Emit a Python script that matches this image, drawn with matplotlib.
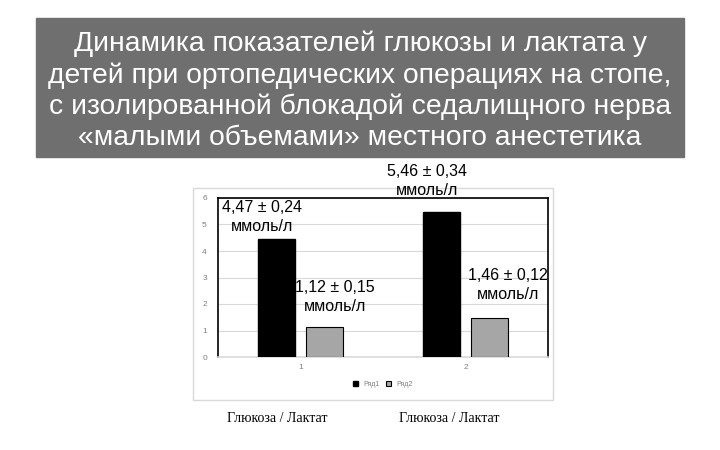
import matplotlib.pyplot as plt
from matplotlib.patches import Rectangle
import numpy as np

categories = ['1', '2']
glucose = [4.47, 5.46]
lactate = [1.12, 1.46]
glucose_labels = ['4,47 ± 0,24\nммоль/л', '5,46 ± 0,34\nммоль/л']
lactate_labels = ['1,12 ± 0,15\nммоль/л', '1,46 ± 0,12\nммоль/л']
series_names = ['Ряд1', 'Ряд2']
bottom_labels = ['Глюкоза / Лактат', 'Глюкоза / Лактат']
title = ('Динамика показателей глюкозы и лактата у\n'
         'детей при ортопедических операциях на стопе,\n'
         'с изолированной блокадой седалищного нерва\n'
         '«малыми объемами» местного анестетика')

W, H = 720, 450
fig = plt.figure(figsize=(7.2, 4.5), dpi=100)
plt.rcParams['font.family'] = ['Liberation Sans', 'DejaVu Sans']


def box(x0, y0, x1, y1):
    # pixel coords (top-left origin) -> figure fraction
    return [x0 / W, 1 - y1 / H, (x1 - x0) / W, (y1 - y0) / H]


# title banner
fig.patches.append(Rectangle((36 / W, 1 - 157 / H), 648 / W, 139 / H,
                             transform=fig.transFigure, color='#6f6f6f', zorder=-2))
fig.text(360 / W, 1 - 91 / H, title, ha='center', va='center', color='white',
         fontsize=20.3, linespacing=1.25)

# outer chart frame
fig.patches.append(Rectangle((193 / W, 1 - 400 / H), 360 / W, 212 / H,
                             transform=fig.transFigure, facecolor='white',
                             edgecolor='#d9d9d9', lw=1, zorder=-2))

ax = fig.add_axes(box(218, 198, 548, 357))
x = np.arange(len(categories))
bw = 0.225
ax.bar(x - 0.145, glucose, bw, color='black', edgecolor='black',
       label=series_names[0], zorder=3)
ax.bar(x + 0.145, lactate, bw, color='#a6a6a6', edgecolor='black', lw=0.8,
       label=series_names[1], zorder=3)
ax.set_xlim(-0.5, 1.5)
ax.set_ylim(0, 6)
ax.set_yticks(range(7))
ax.set_xticks(x)
ax.set_xticklabels(categories)
ax.tick_params(length=0, labelsize=6, colors='#7f7f7f', pad=8)
ax.tick_params(axis='x', pad=5)
ax.yaxis.grid(True, color='#d9d9d9', lw=0.8, zorder=0)
for s in ax.spines.values():
    s.set_color('black')
    s.set_linewidth(1.2)
ax.spines['bottom'].set_color('#d9d9d9')
ax.legend(loc='upper center', bbox_to_anchor=(0.5, -0.11), ncol=2, frameon=False,
          fontsize=5, handlelength=0.7, handleheight=0.7, columnspacing=1,
          labelcolor='#7f7f7f')

# value annotations
gx = [262, 427]
gy = [217, 181]
lx = [335, 508]
ly = [297, 285]
for i in range(2):
    fig.text(gx[i] / W, 1 - gy[i] / H, glucose_labels[i], ha='center', va='center',
             fontsize=11.5, linespacing=1.3)
    fig.text(lx[i] / W, 1 - ly[i] / H, lactate_labels[i], ha='center', va='center',
             fontsize=11.5, linespacing=1.3)

for xc, t in zip([277, 449], bottom_labels):
    fig.text(xc / W, 1 - 418 / H, t, ha='center', va='center', fontsize=10,
             family=['Liberation Serif', 'DejaVu Serif'])

fig.savefig('out.png', dpi=100)
